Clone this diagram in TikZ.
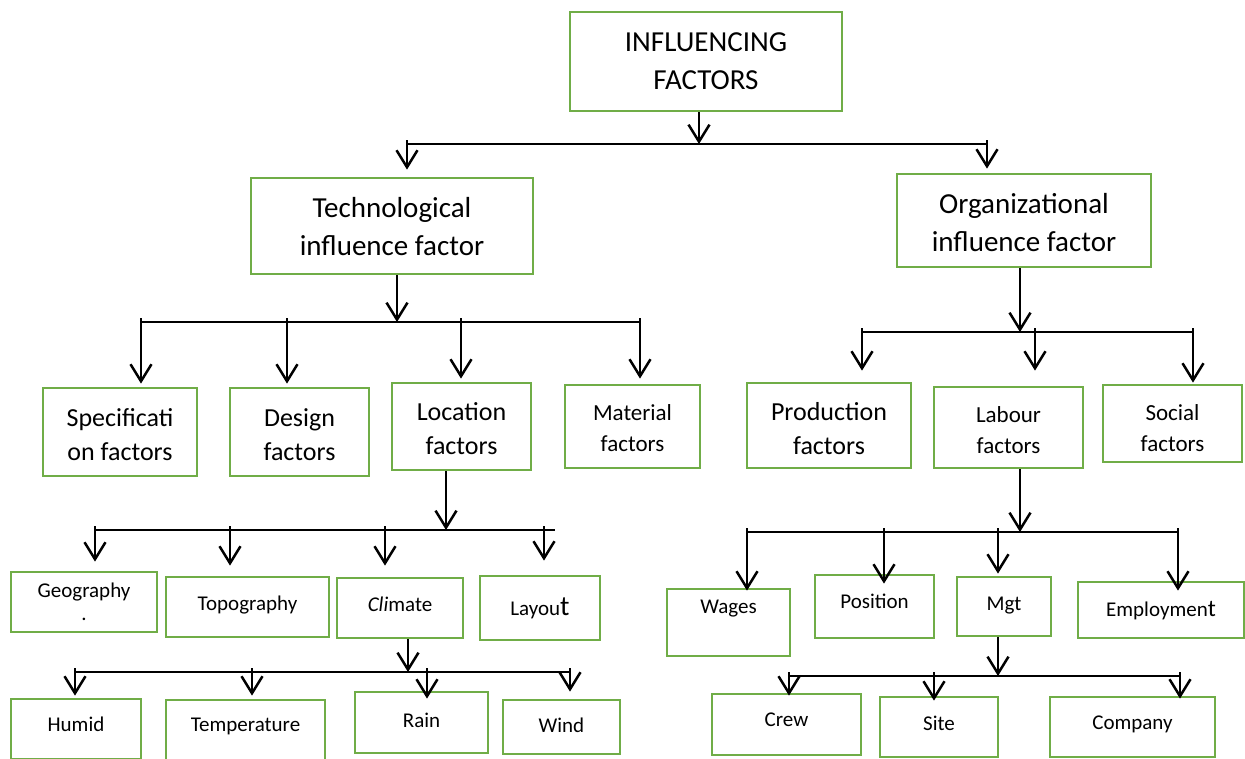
\documentclass[tikz,border=0pt]{standalone}
\usepackage{fontspec}
\setmainfont{Carlito}
\usetikzlibrary{arrows.meta}
\definecolor{boxgreen}{RGB}{112,173,71}

\begin{document}
\begin{tikzpicture}[x=1pt,y=-1pt,
  box/.style={draw=boxgreen,line width=2.8pt,inner sep=0pt,align=center},
  sz/.style 2 args={minimum width=#1pt,minimum height=#2pt},
  fbig/.style={font=\fontsize{29}{38}\selectfont},
  fmid/.style={font=\fontsize{26}{34}\selectfont},
  fsml/.style={font=\fontsize{23}{31}\selectfont},
  fsmall/.style={font=\fontsize{21}{26}\selectfont},
  lift/.style={text depth=#1pt},
  sink/.style={text height=#1pt},
  arr/.style={line width=2.5pt,-{Straight Barb[length=17pt,width=21pt]}},
  bar/.style={line width=1.6pt}]
\useasboundingbox (0,0) rectangle (1245,758);

\node[box,fbig,sz={272}{99}] (top) at (706,61.5) {INFLUENCING\\FACTORS};
\node[box,fbig,sz={282}{96},sink=60] (tech) at (392,226) {Technological\\influence factor};
\node[box,fbig,sz={254}{93},sink=62] (org) at (1024,220.5) {Organizational\\influence factor};

\node[box,fmid,sz={154}{88},sink=58] (spec) at (120,432) {Specificati\\on factors};
\node[box,fmid,sz={139}{88},sink=57.5] (design) at (299.5,432) {Design\\factors};
\node[box,fmid,sz={139}{87},sink=55.5] (loc) at (461.5,426.5) {Location\\factors};
\node[box,fsml,sz={135}{83},sink=50] (mat) at (632.5,426.5) {Material\\factors};
\node[box,fmid,sz={164}{85},sink=58] (prod) at (829,425.5) {Production\\factors};
\node[box,fsml,sz={149}{81},sink=52] (lab) at (1008.5,427.5) {Labour\\factors};
\node[box,fsml,sz={139}{77},sink=56] (social) at (1172.5,423.5) {Social\\factors};

\node[box,fsmall,sz={146}{60}] (geo) at (84,602) {Geography\\[-3pt].};
\node[box,fsmall,sz={163}{60},lift=8] (topo) at (247.5,607) {Topography};
\node[box,fsmall,sz={126}{60},lift=8] (clim) at (400,608) {\textit{Cli}mate};
\node[box,fsmall,sz={120}{64},lift=2] (layout) at (540,608) {Layou{\fontsize{28}{28}\selectfont t}};
\node[box,fsmall,sz={130}{60},lift=10] (humid) at (76,729) {Humid};
\node[box,fsmall,sz={159}{60},lift=10] (temp) at (245.5,730) {Temperature};
\node[box,fsmall,sz={133}{61},lift=5] (rain) at (421.5,722.5) {Rain};
\node[box,fsmall,sz={117}{54},lift=4] (wind) at (561.5,727) {Wind};

\node[box,fsmall,sz={123}{67},lift=31] (wages) at (728.5,622.5) {Wages};
\node[box,fsmall,sz={119}{63},lift=11] (position) at (874.5,606.5) {Position};
\node[box,fsmall,sz={94}{59},lift=5] (mgt) at (1004,606.5) {Mgt};
\node[box,fsmall,sz={166}{56},lift=2] (employ) at (1161,610) {Employmen{\fontsize{24}{24}\selectfont t}};
\node[box,fsmall,sz={149}{61},lift=9] (crew) at (786.5,724.5) {Crew};
\node[box,fsmall,sz={118}{60},lift=8] (site) at (939,727) {Site};
\node[box,fsmall,sz={165}{60},lift=8] (company) at (1132.5,727) {Company};

\coordinate (sA) at (699,144);
\coordinate (sB) at (397,322);
\coordinate (sC) at (1020,332);
\coordinate (sD) at (446,530);
\coordinate (sE) at (1020,532);
\coordinate (sF) at (408,672);
\coordinate (sG) at (998,676);
\foreach \x [count=\i] in {407,987} \coordinate (bA\i) at (\x,144);
\foreach \x [count=\i] in {141,287,461,640} \coordinate (bB\i) at (\x,322);
\foreach \x [count=\i] in {862,1035,1193} \coordinate (bC\i) at (\x,332);
\foreach \x [count=\i] in {95,230,385,544} \coordinate (bD\i) at (\x,530);
\foreach \x [count=\i] in {747,884,998,1178} \coordinate (bE\i) at (\x,532);
\foreach \x [count=\i] in {75,252,427,570} \coordinate (bF\i) at (\x,672);
\foreach \x [count=\i] in {789,934,1180} \coordinate (bG\i) at (\x,676);

% stems down to the bars
\foreach \s/\n in {sA/top,sB/tech,sC/org,sD/loc,sE/lab,sF/clim,sG/mgt}
  \draw[arr] (\s |- \n.south) -- (\s);

% bars
\draw[bar] (bA1) -- (bA2);
\draw[bar] (bB1) -- (bB4);
\draw[bar] (bC1) -- (bC3);
\draw[bar] (bD1) -- (bD4) -- ++(11,0);
\draw[bar] (bE1) -- (bE4);
\draw[bar] (bF1) -- (bF4);
\draw[bar] (bG1) -- (bG3);

% drops to the boxes
\foreach \c/\n/\s in {bA1/tech/7pt,bA2/org/4pt,
    bB1/spec/3pt,bB2/design/3pt,bB3/loc/3pt,bB4/mat/5pt,
    bC1/prod/11pt,bC2/lab/15pt,bC3/social/1pt,
    bD1/geo/9pt,bD2/topo/10pt,bD3/clim/11pt,bD4/layout/14pt,
    bE1/wages/-3pt,bE2/position/-10pt,bE3/mgt/2pt,bE4/employ/-10pt,
    bF1/humid/2pt,bF2/temp/3pt,bF3/rain/-8pt,bF4/wind/7pt,
    bG1/crew/-3pt,bG2/site/-5pt,bG3/company/-3pt}
  \draw[arr,shorten <=-4pt,shorten >=\s] (\c) -- (\c |- \n.north);
\end{tikzpicture}
\end{document}
